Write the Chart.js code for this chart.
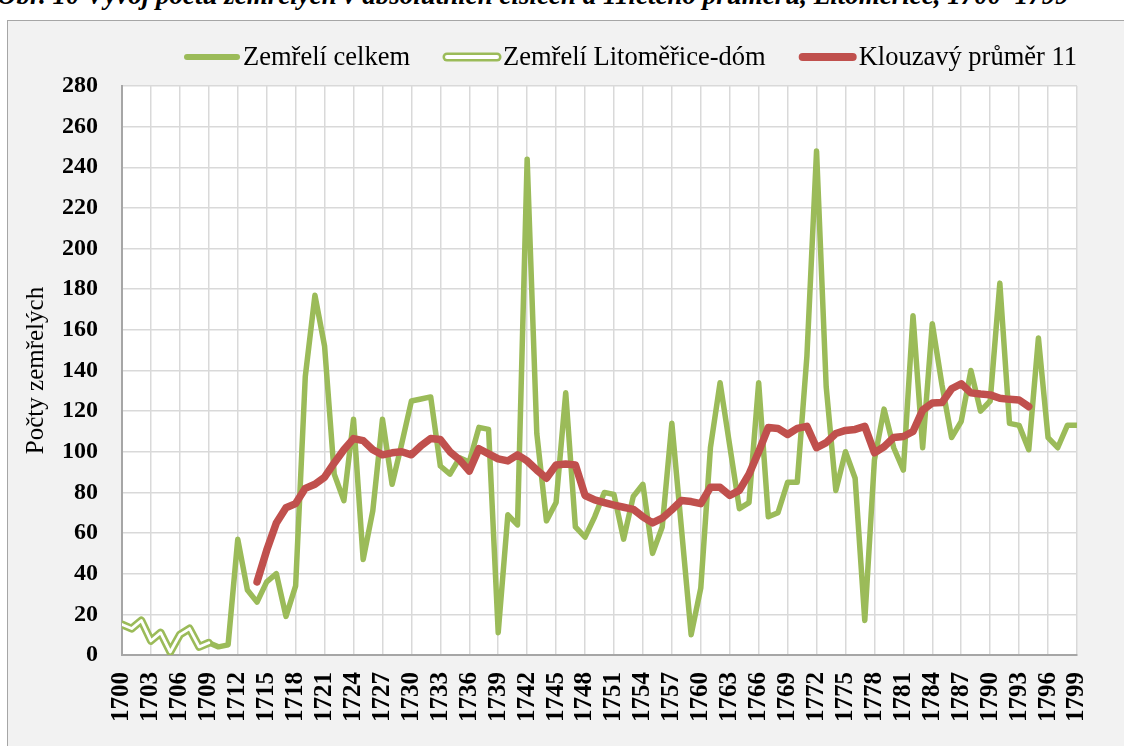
<!DOCTYPE html>
<html>
<head>
<meta charset="utf-8">
<script src="https://cdn.jsdelivr.net/npm/chart.js@4.4.1/dist/chart.umd.min.js"></script>
<style>
  html, body { margin: 0; padding: 0; background: #fff; overflow: hidden; }
  body { width: 1124px; height: 746px; position: relative; }
  #title { position: absolute; left: -3px; top: -18px; white-space: nowrap;
    font: italic bold 27px 'Liberation Serif', 'Times New Roman', serif; line-height: 27px; color: #000; }
  #frame { position: absolute; left: 7px; top: 20px; width: 1130px; height: 740px;
    background: #f2f2f2; border: 1.5px solid #a6a6a6; }
  #wrap { position: absolute; left: 0; top: 0; width: 1124px; height: 746px; }
</style>
</head>
<body>
<div id="title">Obr. 10 Vývoj počtu zemřelých v absolutních číslech a 11letého průměru, Litoměřice, 1700–1799</div>
<div id="frame"></div>
<div id="wrap"><canvas id="chart"></canvas></div>
<script>
// Years on the axis
const firstYear = 1700;
const lastYear = 1799;

// Zemřelí Litoměřice-dóm, 1700-1709
const domStart = 1700;
const domDeaths = [15, 13, 17, 7, 11, 1.5, 10, 13, 4, 6];

// Zemřelí celkem, 1709-1799
const totalStart = 1709;
const totalDeaths = [
    6, 4, 5, 57, 32, 26, 36, 40, 19, 34,
    137, 177, 152, 89, 76, 116, 47, 71, 116, 84,
    104, 125, 126, 127, 93, 89, 97, 95, 112, 111,
    11, 69, 64, 244, 109, 66, 75, 129, 63, 58,
    68, 80, 79, 57, 78, 84, 50, 63, 114, 62,
    10, 33, 102, 134, 103, 72, 75, 134, 68, 70,
    85, 85, 147, 248, 132, 81, 100, 87, 17, 96,
    121, 102, 91, 167, 102, 163, 133, 107, 115, 140,
    120, 125, 183, 114, 113, 101, 156, 107, 102, 113,
    113
];

// Klouzavý průměr 11, 1714-1794
const avgStart = 1714;
const movingAvg = [
    36, 51.5, 65, 72.5, 74.5, 82, 84, 87.5, 94.5, 101,
    106.5, 105.5, 101, 98.5, 99.5, 100, 98.5, 103, 106.5, 106,
    100, 96, 90.5, 101.5, 99, 96.5, 95.5, 98.5, 95.5, 91,
    87, 93.5, 94, 93.5, 78.5, 76.3, 75, 73.8, 72.7, 71.7,
    68, 65, 67.3, 71.5, 76, 75.5, 74.5, 82.5, 82.5, 78.5,
    81, 89, 100, 112, 111.5, 108.5, 111.5, 112.5, 102, 104.5,
    109, 110.5, 111, 112.5, 99.5, 102.5, 107, 107.5, 110, 120.5,
    124, 124.2, 131, 133.5, 129, 128.4, 128, 126.3, 125.8, 125.5,
    122.2
];

const green = '#9bbb59';
const red = '#c0504d';
const serif = "'Liberation Serif', 'Times New Roman', serif";

function toPoints(start, values) {
    return values.map((v, i) => ({ x: start + i, y: v }));
}

// white plot area
const plotBackground = {
    id: 'plotBackground',
    beforeDraw(chart) {
        const { ctx, chartArea: a } = chart;
        ctx.save();
        ctx.fillStyle = '#fff';
        ctx.fillRect(a.left, a.top, a.right - a.left, a.bottom - a.top);
        ctx.restore();
    }
};

// Excel-like legend with line samples
const sampleLegend = {
    id: 'sampleLegend',
    afterDraw(chart) {
        const ctx = chart.ctx;
        const items = chart.data.datasets.filter(d => d.legendKind)
            .sort((a, b) => a.legendPos - b.legendPos);
        const y = 57;
        let x = 183;
        ctx.save();
        ctx.font = '26.5px ' + serif;
        ctx.textBaseline = 'middle';
        ctx.lineCap = 'round';
        items.forEach(d => {
            ctx.strokeStyle = d.borderColor;
            ctx.lineWidth = d.legendKind === 'hollow' ? 9 : (d.borderWidth + 0.5);
            ctx.beginPath();
            ctx.moveTo(x + 4, y);
            ctx.lineTo(x + 54, y);
            ctx.stroke();
            if (d.legendKind === 'hollow') {
                ctx.strokeStyle = '#fff';
                ctx.lineWidth = 4;
                ctx.beginPath();
                ctx.moveTo(x + 4, y);
                ctx.lineTo(x + 54, y);
                ctx.stroke();
            }
            ctx.fillStyle = '#000';
            ctx.fillText(d.label, x + 60, y + 1);
            x += 60 + ctx.measureText(d.label).width + 33;
        });
        ctx.restore();
    }
};

const lineBase = { pointRadius: 0, tension: 0, borderJoinStyle: 'round', borderCapStyle: 'round', spanGaps: false };

new Chart(document.getElementById('chart'), {
    type: 'line',
    data: {
        datasets: [
            {
                ...lineBase,
                label: 'Klouzavý průměr 11',
                data: toPoints(avgStart, movingAvg),
                borderColor: red,
                borderWidth: 7.5,
                order: 0,
                legendKind: 'solid',
                legendPos: 3
            },
            {
                ...lineBase,
                label: 'dóm-inner',
                data: toPoints(domStart, domDeaths),
                borderColor: '#fff',
                borderWidth: 2.8,
                order: 1
            },
            {
                ...lineBase,
                label: 'Zemřelí Litoměřice-dóm',
                data: toPoints(domStart, domDeaths),
                borderColor: green,
                borderWidth: 8,
                order: 2,
                legendKind: 'hollow',
                legendPos: 2
            },
            {
                ...lineBase,
                label: 'Zemřelí celkem',
                data: toPoints(totalStart, totalDeaths),
                borderColor: green,
                borderWidth: 5.5,
                order: 3,
                legendKind: 'solid',
                legendPos: 1
            }
        ]
    },
    options: {
        responsive: true,
        maintainAspectRatio: false,
        animation: false,
        devicePixelRatio: 1,
        layout: { padding: { top: 86, right: 41, bottom: 0, left: 0 } },
        plugins: {
            legend: { display: false },
            tooltip: { enabled: false }
        },
        scales: {
            x: {
                type: 'linear',
                min: firstYear,
                max: lastYear,
                afterFit: s => { s.height = 91; },
                grid: { color: '#d9d9d9', lineWidth: 1.5, drawTicks: false },
                border: { color: '#a6a6a6', width: 2 },
                ticks: {
                    stepSize: 3,
                    autoSkip: false,
                    minRotation: 90,
                    maxRotation: 90,
                    padding: 17,
                    color: '#000',
                    font: { family: serif, size: 25, weight: 'bold' },
                    callback: v => String(v)
                }
            },
            y: {
                min: 0,
                max: 280,
                afterFit: s => { s.width = 122; },
                grid: { color: '#d9d9d9', lineWidth: 1.5, drawTicks: false },
                border: { color: '#a6a6a6', width: 2 },
                ticks: {
                    stepSize: 20,
                    padding: 24,
                    color: '#000',
                    font: { family: serif, size: 24, weight: 'bold' }
                },
                title: {
                    display: true,
                    text: 'Počty zemřelých',
                    color: '#000',
                    font: { family: serif, size: 25 },
                    padding: { top: 21, bottom: 0 }
                }
            }
        }
    },
    plugins: [plotBackground, sampleLegend]
});
</script>
</body>
</html>
